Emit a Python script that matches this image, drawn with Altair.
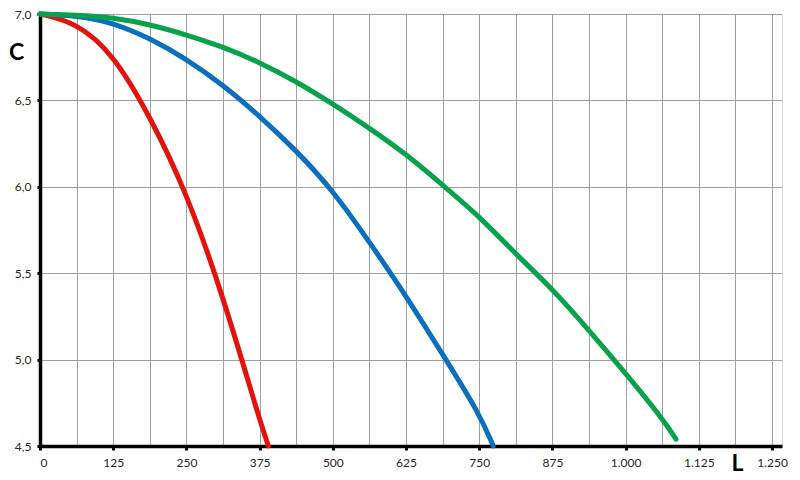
import altair as alt
import pandas as pd

red_L = [0, 62.5, 125, 187.5, 250, 312.5, 375, 390]
red_C = [7.0, 6.95, 6.77, 6.41, 5.97, 5.37, 4.65, 4.5]

blue_L = [0, 62.5, 125, 187.5, 250, 312.5, 375, 437.5, 500, 562.5, 625, 687.5, 750, 774]
blue_C = [7.0, 6.99, 6.95, 6.86, 6.74, 6.59, 6.41, 6.21, 5.98, 5.68, 5.37, 5.03, 4.69, 4.5]

green_L = [0, 62.5, 125, 187.5, 250, 312.5, 375, 437.5, 500, 562.5, 625, 687.5,
           750, 812.5, 875, 937.5, 1000, 1062.5, 1086]
green_C = [7.0, 6.995, 6.98, 6.94, 6.88, 6.81, 6.72, 6.61, 6.48, 6.34, 6.19, 6.01,
           5.83, 5.61, 5.41, 5.17, 4.92, 4.66, 4.54]

x_grid = [i * 62.5 for i in range(21)]
y_ticks = [4.5, 5.0, 5.5, 6.0, 6.5, 7.0]

series = [("red", red_L, red_C, "#e3120b"),
          ("blue", blue_L, blue_C, "#0a6fbd"),
          ("green", green_L, green_C, "#08a24b")]

FONT = "Lato"

x_enc = alt.X(
    "L:Q",
    scale=alt.Scale(domain=[0, 1267], nice=False, zero=False),
    axis=alt.Axis(
        values=x_grid,
        labelExpr="datum.value % 125 === 0 ? replace(format(datum.value, ','), ',', '.') : ''",
        grid=True, gridColor="#a0a0a0", gridWidth=1,
        domainColor="black", domainWidth=3.5,
        tickColor="black", tickWidth=3, tickSize=4,
        tickOpacity={"condition": {"test": "datum.value % 125 !== 0", "value": 0}, "value": 1},
        labelFont=FONT, labelFontSize=12, labelColor="#262626", labelPadding=7,
        title="L", titleFont=FONT, titleFontSize=23, titleFontWeight="bold",
        titleColor="black", titleAngle=0, titleAlign="center", titleBaseline="middle",
        titleX=697, titleY=17,
    ),
)
y_enc = alt.Y(
    "C:Q",
    scale=alt.Scale(domain=[4.5, 7.0], nice=False, zero=False),
    axis=alt.Axis(
        values=y_ticks,
        labelExpr="replace(format(datum.value, '.1f'), '.', ',')",
        grid=True, gridColor="#a0a0a0", gridWidth=1,
        domainColor="black", domainWidth=3.5,
        tickColor="black", tickWidth=3, tickSize=3,
        labelFont=FONT, labelFontSize=12, labelColor="#262626", labelPadding=6,
        title="C", titleFont=FONT, titleFontSize=23, titleFontWeight="bold",
        titleColor="black", titleAngle=0, titleAlign="center", titleBaseline="middle",
        titleX=-24, titleY=38,
    ),
)

layers = []
for name, Ls, Cs, col in series:
    df = pd.DataFrame({"L": Ls, "C": Cs})
    layers.append(
        alt.Chart(df).mark_line(color=col, strokeWidth=5, strokeCap="round",
                                interpolate="basis", clip=False)
        .encode(x=x_enc, y=y_enc)
    )

chart = alt.layer(*layers).properties(
    width=742, height=432,
    autosize=alt.AutoSizeParams(type="none"),
    padding={"left": 32, "top": 6, "right": 10, "bottom": 32},
).configure_view(stroke=None).configure(background="white")

chart.save("out.html", embed_options={"renderer": "svg", "actions": False})
